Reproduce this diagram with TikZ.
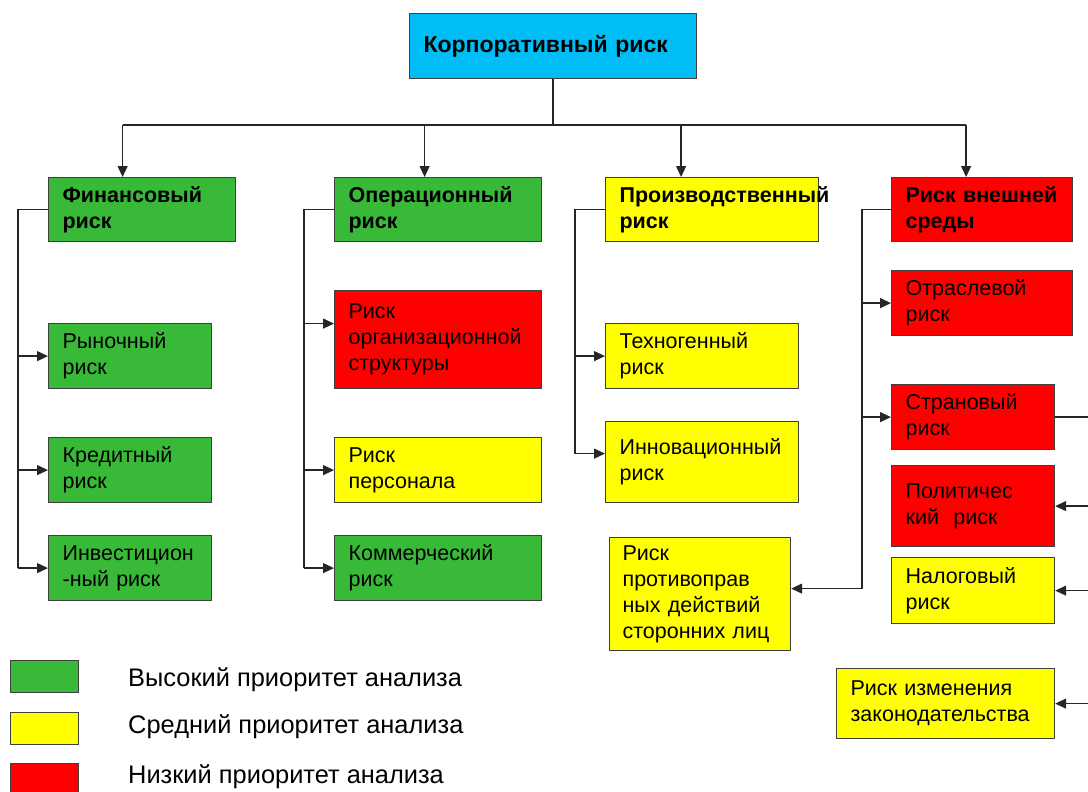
\documentclass[tikz,border=0pt]{standalone}
\usepackage{fontspec}
\setmainfont{Liberation Sans}
\usetikzlibrary{arrows.meta}
\definecolor{hgreen}{RGB}{56,186,56}
\definecolor{myellow}{RGB}{255,255,0}
\definecolor{lred}{RGB}{255,0,0}
\definecolor{topcyan}{RGB}{0,190,245}
\newcommand\rbfont{\fontsize{21.5}{26}\selectfont}
\newcommand\lgfont{\fontsize{25.4}{30}\selectfont}
\tikzset{
  rbox/.style n args={3}{draw=black!75, line width=1.2pt, fill=#1, anchor=north west,
    inner xsep=14pt, inner ysep=0pt, text width=#2pt, minimum height=#3pt,
    align=left, font=\rbfont},
  swatch/.style={draw=black!75, line width=1.2pt, fill=#1, anchor=north west,
    minimum width=68pt, minimum height=32pt, inner sep=0pt},
  link/.style={line width=1.3pt, draw=black!85},
  >={Triangle[length=11pt,width=10pt]}
}
\begin{document}
\begin{tikzpicture}[x=1pt,y=-1pt]
\useasboundingbox (0,0) rectangle (1088,792);
\node[rbox={topcyan}{259}{65}, font=\fontsize{23}{28}\selectfont\bfseries] (top) at (409,13) {Корпоративный риск};
\node[rbox={hgreen}{159}{64}, font=\rbfont\bfseries] (fin) at (48,177) {Финансовый\\риск};
\node[rbox={hgreen}{179}{64}, font=\rbfont\bfseries] (op) at (334,177) {Операционный\\риск};
\node[rbox={myellow}{185}{64}, font=\rbfont\bfseries] (prod) at (605,177) {Производственный\\риск};
\node[rbox={lred}{153}{64}, font=\rbfont\bfseries] (ext) at (891,177) {Риск внешней\\среды};
\node[rbox={hgreen}{135}{65}] (mkt) at (48,323) {Рыночный\\риск};
\node[rbox={hgreen}{135}{65}] (cred) at (48,437) {Кредитный\\риск};
\node[rbox={hgreen}{135}{65}] (inv) at (48,535) {Инвестицион\\-ный риск};
\node[rbox={lred}{179}{98}] (org) at (334,290) {Риск\\организационной\\структуры};
\node[rbox={myellow}{179}{65}] (pers) at (334,437) {Риск\\персонала};
\node[rbox={hgreen}{179}{65}] (com) at (334,535) {Коммерческий\\риск};
\node[rbox={myellow}{165}{65}] (tech) at (605,323) {Техногенный\\риск};
\node[rbox={myellow}{165}{81}] (innov) at (605,421) {Инновационный\\риск};
\node[rbox={myellow}{155}{113}, inner xsep=13pt] (thr) at (609,537) {Риск\\противоправ\\ных действий\\сторонних лиц};
\node[rbox={lred}{153}{65}] (ind) at (891,270) {Отраслевой\\риск};
\node[rbox={lred}{135}{65}] (cty) at (891,384) {Страновый\\риск};
\node[rbox={lred}{135}{81}] (pol) at (891,465) {Политичес\\кий\ \ риск};
\node[rbox={myellow}{135}{66}] (tax) at (891,557) {Налоговый\\риск};
\node[rbox={myellow}{190}{70}] (law) at (836,668) {Риск изменения\\законодательства};
\coordinate (bus) at (0,125);
\coordinate (finx) at (18,0);
\coordinate (opx) at (304,0);
\coordinate (prodx) at (575,0);
\coordinate (extx) at (862,0);
\coordinate (rx) at (1094,0);
\coordinate (finin) at ([xshift=-19.5pt]fin.north);
\coordinate (opin) at ([xshift=-13.5pt]op.north);
\coordinate (prodin) at ([xshift=-31pt]prod.north);
\coordinate (extin) at ([xshift=-16pt]ext.north);
\coordinate (orgin) at ([yshift=16pt]org.west);
\coordinate (innovin) at ([yshift=8.5pt]innov.west);
\coordinate (thrin) at ([yshift=5.5pt]thr.east);
\draw[link] (top.south) -- (top.south |- bus);
\draw[link] (finin |- bus) -- (extin |- bus);
\foreach \n in {finin,opin,prodin,extin}
  \draw[link,->] (\n |- bus) -- (\n);
\draw[link] (fin.west) -- (fin.west -| finx) -- (finx |- inv.west);
\foreach \n in {mkt,cred,inv}
  \draw[link,->] (finx |- \n.west) -- (\n.west);
\draw[link] (op.west) -- (op.west -| opx) -- (opx |- com.west);
\foreach \n in {orgin,pers.west,com.west}
  \draw[link,->] (opx |- \n) -- (\n);
\draw[link] (prod.west) -- (prod.west -| prodx) -- (prodx |- innovin);
\foreach \n in {tech.west,innovin}
  \draw[link,->] (prodx |- \n) -- (\n);
\draw[link] (ext.west) -- (ext.west -| extx) -- (extx |- thrin);
\foreach \n in {ind,cty}
  \draw[link,->] (extx |- \n.west) -- (\n.west);
\draw[link,->] (extx |- thrin) -- (thrin);
\draw[link] (cty.east) -- (cty.east -| rx) -- (rx |- law.east);
\foreach \n in {pol,tax,law}
  \draw[link,->] (rx |- \n.east) -- (\n.east);
\node[swatch=hgreen] (lhigh) at (10,660) {};
\node[swatch=myellow] (lmid) at (10,712) {};
\node[swatch=lred] (llow) at (10,763) {};
\node[anchor=west, inner xsep=0pt, font=\lgfont] (thigh) at (128,680) {Высокий приоритет анализа};
\node[anchor=west, inner xsep=0pt, font=\lgfont] (tmid) at (128,727) {Средний приоритет анализа};
\node[anchor=west, inner xsep=0pt, font=\lgfont] (tlow) at (128,777) {Низкий приоритет анализа};
\end{tikzpicture}
\end{document}
